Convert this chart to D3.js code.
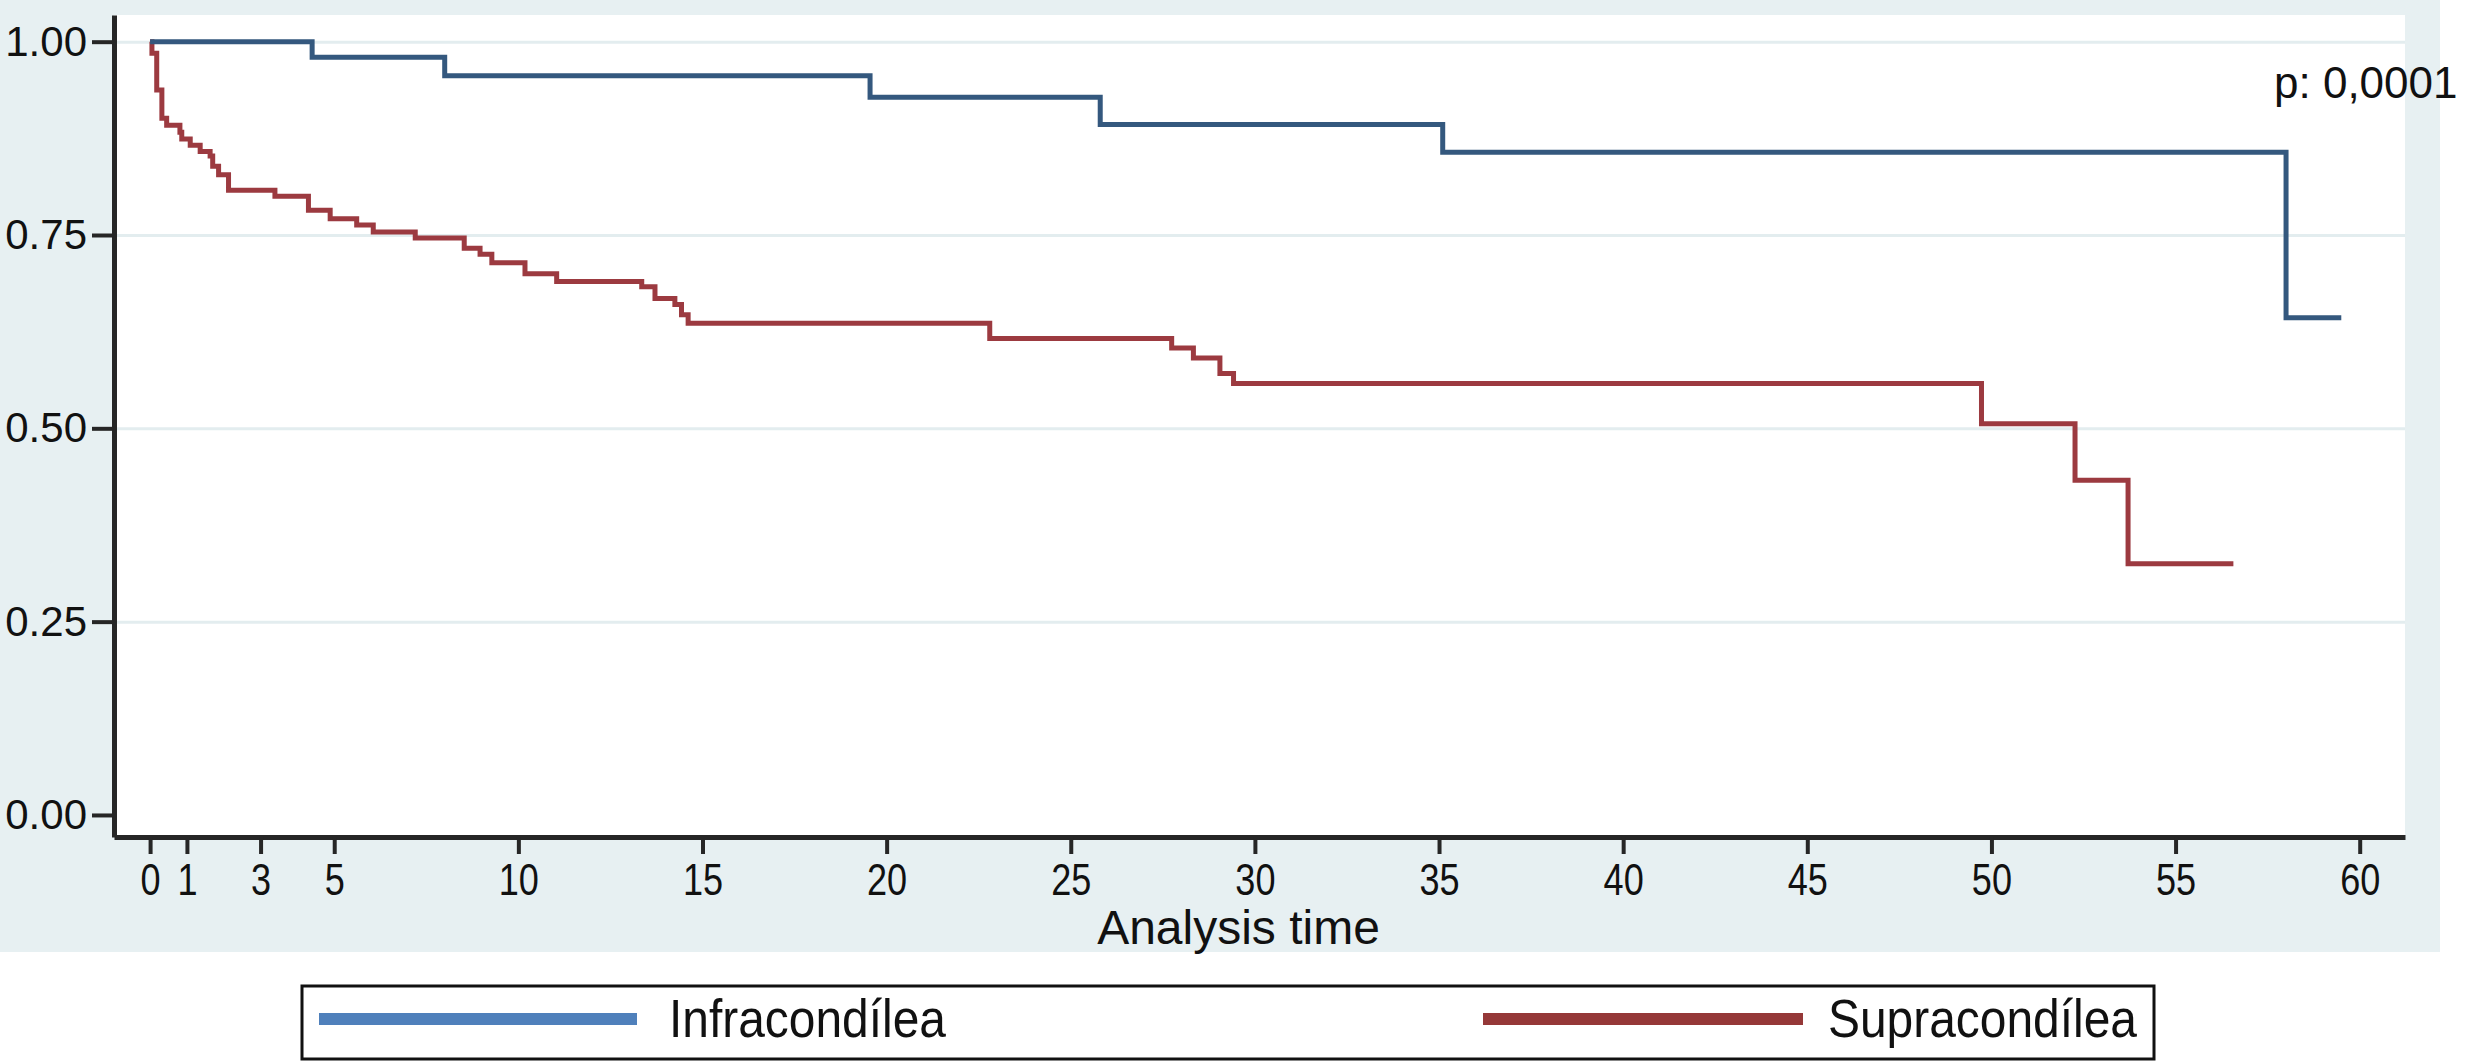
<!DOCTYPE html>
<html>
<head>
<meta charset="utf-8">
<script src="https://cdn.jsdelivr.net/npm/d3@7"></script>
<style>
  body { margin: 0; background: #ffffff; }
  svg { display: block; font-family: "Liberation Sans", Arial, Helvetica, sans-serif; }
</style>
</head>
<body>
<div id="chart"></div>
<script>
// Kaplan-Meier data
var infraTime = [0, 4.4, 8.0, 19.55, 25.8, 35.1, 58.0, 59.5]
var infraSurv = [1, 0.980, 0.956, 0.928, 0.893, 0.857, 0.643, 0.643]

var supraTime = [0, 0.05, 0.18, 0.32, 0.45, 0.81, 0.86, 1.09, 1.36, 1.63, 1.70, 1.86, 2.13, 3.39, 4.30, 4.89, 5.61, 6.06, 7.20, 8.53, 8.96, 9.28, 10.18, 11.04, 13.35, 13.71, 14.25, 14.43, 14.61, 22.8, 27.74, 28.33, 29.05, 29.42, 49.73, 52.27, 53.71, 56.57]
var supraSurv = [1, 0.985, 0.9375, 0.901, 0.892, 0.883, 0.874, 0.866, 0.858, 0.852, 0.839, 0.828, 0.808, 0.800, 0.782, 0.771, 0.763, 0.754, 0.746, 0.733, 0.725, 0.714, 0.700, 0.690, 0.683, 0.668, 0.660, 0.647, 0.636, 0.616, 0.604, 0.591, 0.571, 0.558, 0.506, 0.433, 0.325, 0.325]

var xTicks = [0, 1, 3, 5, 10, 15, 20, 25, 30, 35, 40, 45, 50, 55, 60]
var yTicks = [0, 0.25, 0.5, 0.75, 1]
var seriesNames = ['Infracondílea', 'Supracondílea']
var pText = 'p: 0,0001'
var xTitle = 'Analysis time'

var width = 2471
var height = 1062
var plot = { left: 114, right: 2405, top: 15, bottom: 837 }

var svg = d3.select('#chart')
  .append('svg')
  .attr('width', width)
  .attr('height', height)

// outer graph region
svg.append('rect')
  .attr('x', 0)
  .attr('y', 0)
  .attr('width', 2440)
  .attr('height', 952)
  .style('fill', '#e7f0f2')

// plot region
svg.append('rect')
  .attr('x', plot.left)
  .attr('y', plot.top)
  .attr('width', plot.right - plot.left)
  .attr('height', plot.bottom - plot.top)
  .style('fill', '#ffffff')

var xScale = d3.scaleLinear()
  .domain([-0.98, 61.23])
  .range([plot.left, plot.right])

var yScale = d3.scaleLinear()
  .domain([-0.0285, 1.0345])
  .range([plot.bottom, plot.top])

// grid
var yGrid = d3.axisLeft(yScale)
  .tickValues(yTicks.filter(d => d > 0))
  .tickSize(-(plot.right - plot.left))
  .tickFormat('')

svg.append('g')
  .attr('class', 'grid')
  .attr('transform', `translate(${plot.left},0)`)
  .call(yGrid)
  .call(g => g.select('.domain').remove())
  .selectAll('line')
  .style('stroke', '#e3edef')
  .style('stroke-width', 3)

// lines
var stepLine = d3.line()
  .x(d => xScale(d[0]))
  .y(d => yScale(d[1]))
  .curve(d3.curveStepAfter)

var infraData = infraTime.map((t, i) => [t, infraSurv[i]])
var supraData = supraTime.map((t, i) => [t, supraSurv[i]])

svg.append('path')
  .datum(supraData)
  .attr('class', 'line supra')
  .attr('d', stepLine)
  .style('fill', 'none')
  .style('stroke', '#9c3a40')
  .style('stroke-width', 5)

svg.append('path')
  .datum(infraData)
  .attr('class', 'line infra')
  .attr('d', stepLine)
  .style('fill', 'none')
  .style('stroke', '#34587e')
  .style('stroke-width', 5)

// Y axis
var yAxis = d3.axisLeft(yScale)
  .tickValues(yTicks)
  .tickSize(22)
  .tickSizeOuter(0)
  .tickPadding(5)
  .tickFormat(d3.format('.2f'))

svg.append('g')
  .attr('class', 'y-axis')
  .attr('transform', `translate(${plot.left},0)`)
  .call(yAxis)
  .call(g => g.select('.domain').style('stroke', '#262626').style('stroke-width', 5))
  .call(g => g.selectAll('.tick line').style('stroke', '#262626').style('stroke-width', 4))
  .selectAll('.tick text')
  .style('font-size', '42px')
  .style('fill', '#111')

// X axis
var xAxis = d3.axisBottom(xScale)
  .tickValues(xTicks)
  .tickSize(17)
  .tickSizeOuter(0)
  .tickPadding(10)

svg.append('g')
  .attr('class', 'x-axis')
  .attr('transform', `translate(0,${plot.bottom})`)
  .call(xAxis)
  .call(g => g.select('.domain').style('stroke', '#262626').style('stroke-width', 5))
  .call(g => g.selectAll('.tick line').style('stroke', '#262626').style('stroke-width', 4))
  .selectAll('.tick text')
  .attr('transform', 'scale(0.82,1)')
  .style('font-size', '44px')
  .style('fill', '#111')

svg.append('text')
  .attr('x', (1097 + 1380) / 2)
  .attr('y', 944)
  .attr('text-anchor', 'middle')
  .style('font-size', '48px')
  .style('fill', '#111')
  .text(xTitle)

svg.append('text')
  .attr('x', 2274)
  .attr('y', 98)
  .style('font-size', '44px')
  .style('fill', '#111')
  .text(pText)

// legend
var legend = svg.append('g').attr('class', 'legend')

legend.append('rect')
  .attr('x', 302)
  .attr('y', 986)
  .attr('width', 1852)
  .attr('height', 73)
  .style('fill', '#ffffff')
  .style('stroke', '#111')
  .style('stroke-width', 3)

var legendItems = [
  { name: seriesNames[0], color: '#4f80bb', x1: 319, x2: 637, tx: 669, w: 277 },
  { name: seriesNames[1], color: '#953838', x1: 1483, x2: 1803, tx: 1828, w: 309 }
]

legendItems.forEach(d => {
  legend.append('line')
    .attr('x1', d.x1)
    .attr('x2', d.x2)
    .attr('y1', 1019)
    .attr('y2', 1019)
    .style('stroke', d.color)
    .style('stroke-width', 12)
  legend.append('text')
    .attr('x', d.tx)
    .attr('y', 1037)
    .attr('textLength', d.w)
    .attr('lengthAdjust', 'spacingAndGlyphs')
    .style('font-size', '54px')
    .style('fill', '#111')
    .text(d.name)
})
</script>
</body>
</html>
